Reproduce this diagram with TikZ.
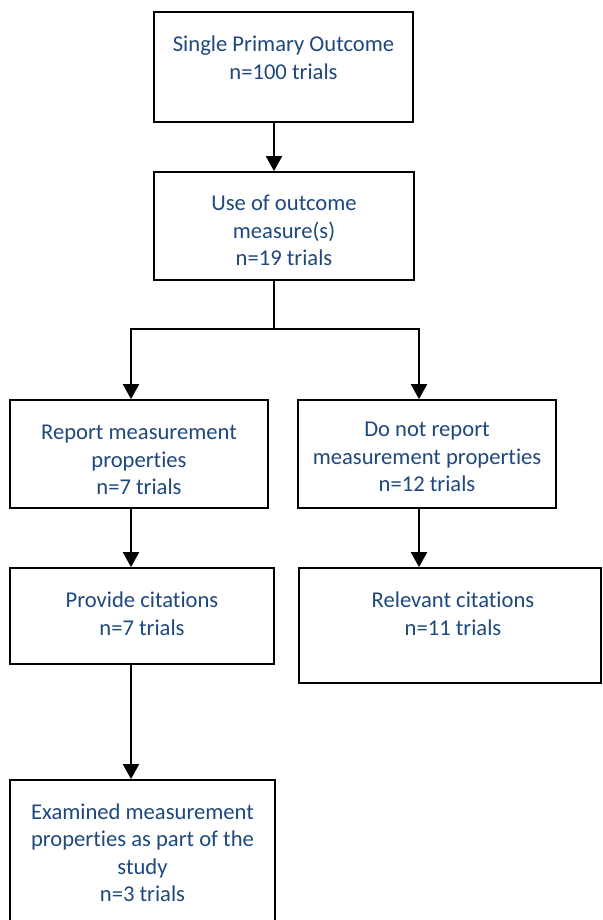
\documentclass[tikz,border=0pt]{standalone}
\usepackage{fontspec}
\setmainfont{Carlito}[Ligatures={NoCommon}]
\usetikzlibrary{arrows.meta}
\definecolor{txtblue}{RGB}{31,73,125}
\tikzset{
  boxshape/.style={draw=black, line width=1.8pt, fill=white, inner sep=0pt},
  boxtext/.style={text=txtblue, align=center, inner sep=0pt, font=\fontsize{22.6}{27.5}\selectfont},
  conn/.style={line width=2pt, draw=black},
  arr/.style={conn, -{Triangle[length=15pt,width=16pt]}}
}
\begin{document}
\begin{tikzpicture}[x=1pt,y=-1pt]
\useasboundingbox (0,0) rectangle (602,920);
% boxes
\node[boxshape, minimum width=259pt, minimum height=110pt] (b1) at (283.5,67) {};
\node[boxshape, minimum width=260pt, minimum height=108pt] (b2) at (284,226) {};
\node[boxshape, minimum width=258pt, minimum height=108pt] (b3) at (139,454) {};
\node[boxshape, minimum width=258pt, minimum height=108pt] (b4) at (427,454) {};
\node[boxshape, minimum width=264pt, minimum height=96pt] (b5) at (142,616) {};
\node[boxshape, minimum width=302pt, minimum height=115pt] (b6) at (450,625.5) {};
\node[boxshape, minimum width=265pt, minimum height=145pt] (b7) at (142.5,852.5) {};
% texts
\node[boxtext] (t1) at (283.5,57.5) {Single Primary Outcome\\n=100 trials};
\node[boxtext] (t2) at (284,230.5) {Use of outcome\\measure(s)\\n=19 trials};
\node[boxtext] (t3) at (139,460) {Report measurement\\properties\\n=7 trials};
\node[boxtext] (t4) at (427,457) {Do not report\\measurement properties\\n=12 trials};
\node[boxtext] (t5) at (142,613.5) {Provide citations\\n=7 trials};
\node[boxtext] (t6) at (453,613.5) {Relevant citations\\n=11 trials};
\node[boxtext] (t7) at (142.5,852.5) {Examined measurement\\properties as part of the\\study\\n=3 trials};
% connector points
\coordinate (sp) at (274,329);
\coordinate (la) at (131,329);
\coordinate (ra) at (419,329);
% connectors
\draw[arr] (b1.south -| sp) -- (b2.north -| sp);
\draw[conn] (b2.south -| sp) -- (sp);
\draw[conn, line cap=rect] (la) -- (ra);
\draw[arr] (la) -- (b3.north -| la);
\draw[arr] (ra) -- (b4.north -| ra);
\draw[arr] (b3.south -| la) -- (b5.north -| la);
\draw[arr] (b4.south -| ra) -- (b6.north -| ra);
\draw[arr] (b5.south -| la) -- (b7.north -| la);
\end{tikzpicture}
\end{document}
